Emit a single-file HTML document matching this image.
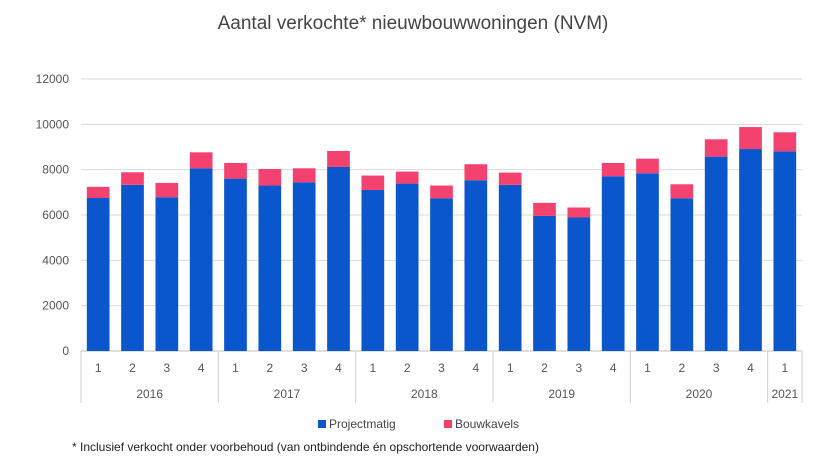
<!DOCTYPE html>
<html><head><meta charset="utf-8"><style>
body{margin:0;background:#fff;font-family:"Liberation Sans",sans-serif}
svg text{font-family:"Liberation Sans",sans-serif}
</style></head><body>
<svg width="816" height="459" id="c">
<text x="413" y="29" text-anchor="middle" font-size="19" fill="#444">Aantal verkochte* nieuwbouwwoningen (NVM)</text>
<g id="grid"></g><g id="bars"></g><g id="xaxis"></g>
<g>
<rect x="318" y="420" width="8" height="8" fill="#0a56cc"/>
<text x="329" y="428" font-size="12" fill="#444">Projectmatig</text>
<rect x="444" y="420" width="8" height="8" fill="#f44270"/>
<text x="455" y="428" font-size="12" fill="#444">Bouwkavels</text>
</g>
<text x="72" y="451" font-size="12" fill="#222">* Inclusief verkocht onder voorbehoud (van ontbindende én opschortende voorwaarden)</text>
</svg>
<script>
const quarters=["1","2","3","4","1","2","3","4","1","2","3","4","1","2","3","4","1","2","3","4","1"];
const years=["2016","2017","2018","2019","2020","2021"];
const yearCounts=[4,4,4,4,4,1];
const projectmatig=[6750,7330,6785,8060,7605,7300,7445,8120,7105,7385,6740,7535,7330,5960,5890,7710,7840,6740,8575,8910,8810];
const totals=[7240,7885,7415,8765,8295,8030,8060,8825,7740,7915,7300,8240,7870,6535,6330,8295,8485,7355,9340,9880,9650];
const bouwkavels=totals.map((t,i)=>t-projectmatig[i]);
const yTicks=[0,2000,4000,6000,8000,10000,12000];
const NS="http://www.w3.org/2000/svg";
const L=81,R=802,Y0=351,Ymax=12000,Ytop=79;
const step=(R-L)/quarters.length,bw=22.7;
const y=v=>Y0-v/Ymax*(Y0-Ytop);
const x=i=>L+step*(i+0.5);
function mk(t,a,p){const e=document.createElementNS(NS,t);for(const k in a)e.setAttribute(k,a[k]);p.appendChild(e);return e;}
const g=document.getElementById('grid'),b=document.getElementById('bars'),xa=document.getElementById('xaxis');
yTicks.forEach(v=>{
 const l=mk('line',{x1:L,x2:R,y1:y(v),y2:y(v),stroke:v?'#d9d9d9':'#bfbfbf','stroke-width':1},g);
 
 
 const t=mk('text',{x:69,y:y(v)+4,'text-anchor':'end','font-size':12,fill:'#555'},g);
 t.textContent=v;
 
 
});
quarters.forEach((q,i)=>{
 const r1=mk('rect',{x:x(i)-bw/2,y:y(projectmatig[i]),width:bw,height:Y0-y(projectmatig[i]),fill:'#0a56cc'},b);
 
 
 const r2=mk('rect',{x:x(i)-bw/2,y:y(projectmatig[i]+bouwkavels[i]),width:bw,height:y(projectmatig[i])-y(projectmatig[i]+bouwkavels[i]),fill:'#f44270'},b);
 
 
 const t=mk('text',{x:x(i),y:372,'text-anchor':'middle','font-size':12,fill:'#555'},xa);
 t.textContent=q;
 
 
});
let s=0;
const sep=p=>{const l=mk('line',{x1:L+step*p,x2:L+step*p,y1:Y0,y2:403,stroke:'#d0d0d0'},xa);
 
 };
sep(0);
years.forEach((yr,j)=>{
 const n=yearCounts[j];
 const t=mk('text',{x:L+step*(s+n/2),y:398,'text-anchor':'middle','font-size':12,fill:'#555'},xa);
 t.textContent=yr;
 
 
 s+=n;sep(s);
});
</script>
</body></html>
